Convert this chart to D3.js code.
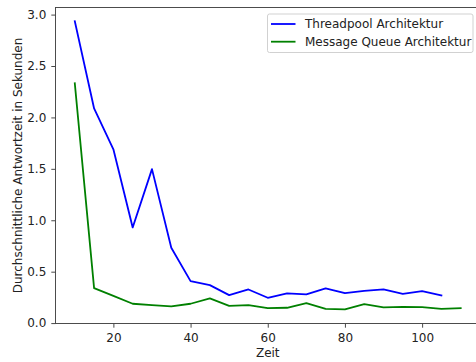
<!DOCTYPE html>
<html>
<head>
<meta charset="utf-8">
<script src="https://cdn.jsdelivr.net/npm/d3@7"></script>
<style>
  html, body { margin: 0; padding: 0; background: #fff; }
  svg { display: block; font-family: "DejaVu Sans", sans-serif; }
</style>
</head>
<body>
<svg id="chart" width="476" height="362"></svg>
<script>
// Time steps (x) and average response time in seconds for each architecture
const zeitThreadpool = [10, 15, 20, 25, 30, 35, 40, 45, 50, 55, 60, 65, 70, 75, 80, 85, 90, 95, 100, 105];
const threadpool = [2.935, 2.087, 1.69, 0.93, 1.497, 0.732, 0.408, 0.369, 0.272, 0.327, 0.246, 0.289, 0.279, 0.337, 0.292, 0.314, 0.327, 0.285, 0.311, 0.269];

const zeitQueue = [10, 15, 20, 25, 30, 35, 40, 45, 50, 55, 60, 65, 70, 75, 80, 85, 90, 95, 100, 105, 110];
const messageQueue = [2.332, 0.340, 0.264, 0.188, 0.175, 0.162, 0.188, 0.24, 0.168, 0.175, 0.146, 0.149, 0.194, 0.139, 0.133, 0.185, 0.152, 0.158, 0.155, 0.139, 0.146];

const xTicks = [20, 40, 60, 80, 100];
const yTicks = [0.0, 0.5, 1.0, 1.5, 2.0, 2.5, 3.0];

const seriesNames = ["Threadpool Architektur", "Message Queue Architektur"];
const seriesColors = ["#0000ff", "#008000"];

const FONT = "12px";
const svg = d3.select("#chart");
const plotLeft = 55.5, plotRight = 480, plotTop = 7.5, plotBottom = 323.5;

const x = d3.scaleLinear().domain([5, 115]).range([plotLeft, plotRight]);
const y = d3.scaleLinear().domain([-0.004, 3.069]).range([plotBottom, plotTop]);

const plot = svg.append("g");

const line = d3.line().x(d => x(d[0])).y(d => y(d[1]));
const series = [
  zeitThreadpool.map((t, i) => [t, threadpool[i]]),
  zeitQueue.map((t, i) => [t, messageQueue[i]])
];
series.forEach((pts, i) => {
  plot.append("path")
    .attr("d", line(pts))
    .attr("fill", "none")
    .attr("stroke", seriesColors[i])
    .attr("stroke-width", 1.8)
    .attr("stroke-linejoin", "round")
    .attr("stroke-linecap", "square");
});

// Axes
const xAxis = d3.axisBottom(x).tickValues(xTicks).tickSize(4.2).tickPadding(5.5).tickFormat(d3.format("d"));
const yAxis = d3.axisLeft(y).tickValues(yTicks).tickSize(4.2).tickPadding(5).tickFormat(d3.format(".1f"));

const gx = svg.append("g").attr("transform", `translate(0,${plotBottom})`).call(xAxis);
const gy = svg.append("g").attr("transform", `translate(${plotLeft},0)`).call(yAxis);
[gx, gy].forEach(g => {
  g.select(".domain").remove();
  g.selectAll(".tick line").attr("stroke", "#333").attr("stroke-width", 0.9);
  g.selectAll(".tick text").attr("fill", "#222").style("font-size", FONT).style("font-family", "DejaVu Sans");
});

// Frame
svg.append("rect")
  .attr("x", plotLeft).attr("y", plotTop)
  .attr("width", plotRight - plotLeft).attr("height", plotBottom - plotTop)
  .attr("fill", "none").attr("stroke", "#444").attr("stroke-width", 0.95);

// Axis titles
svg.append("text")
  .attr("x", (plotLeft + plotRight) / 2).attr("y", 357)
  .attr("text-anchor", "middle")
  .style("font-size", FONT).attr("fill", "#222")
  .text("Zeit");

svg.append("text")
  .attr("transform", `translate(22,${(plotTop + plotBottom) / 2}) rotate(-90)`)
  .attr("text-anchor", "middle")
  .style("font-size", FONT).attr("fill", "#222")
  .text("Durchschnittliche Antwortzeit in Sekunden");

// Legend
const lg = svg.append("g");
lg.append("rect")
  .attr("x", 267.5).attr("y", 14).attr("width", 205.5).attr("height", 38.5)
  .attr("rx", 2).attr("fill", "#fff").attr("fill-opacity", 0.8)
  .attr("stroke", "#ccc").attr("stroke-width", 0.9);
seriesNames.forEach((name, i) => {
  const yy = 24 + i * 17.7;
  lg.append("line")
    .attr("x1", 271).attr("x2", 295.5).attr("y1", yy).attr("y2", yy)
    .attr("stroke", seriesColors[i]).attr("stroke-width", 1.8);
  lg.append("text")
    .attr("x", 305).attr("y", yy).attr("dy", "0.35em")
    .style("font-size", FONT).attr("fill", "#222")
    .text(name);
});
</script>
</body>
</html>
